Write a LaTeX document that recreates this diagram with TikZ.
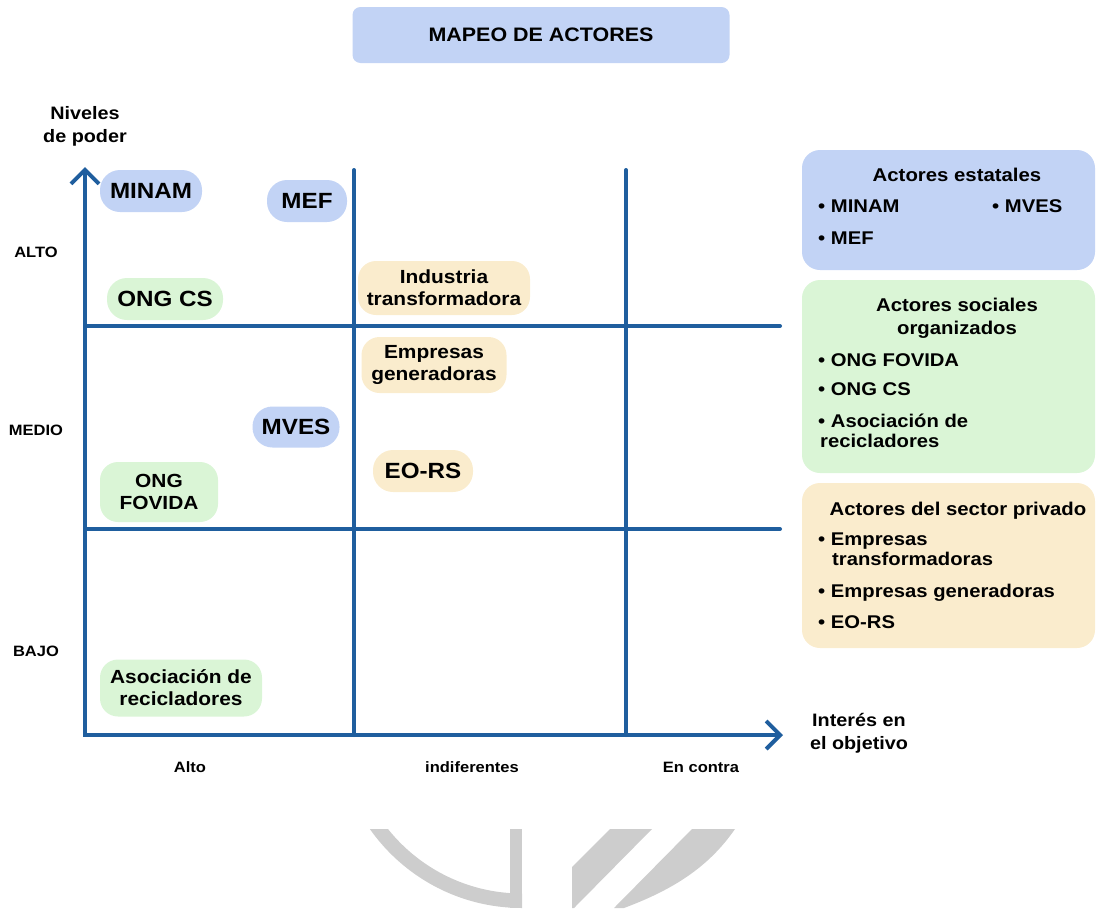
\documentclass[tikz,border=0pt]{standalone}
\usepackage{fontspec}
\setmainfont{Liberation Sans}[FakeStretch=1.1]
\usetikzlibrary{arrows.meta}

\definecolor{ejes}{RGB}{31,94,158}
\definecolor{azul}{RGB}{194,211,245}
\definecolor{verde}{RGB}{218,245,214}
\definecolor{crema}{RGB}{250,236,205}
\definecolor{marca}{RGB}{205,205,205}

\begin{document}
\begin{tikzpicture}[x=1pt, y=-1pt, >={Straight Barb[length=14pt, width=28pt]},
  eje/.style = {draw=ejes, line width=4pt, line cap=round},
  pill/.style 2 args = {rounded corners=20pt, align=center, inner sep=0pt, minimum width=#1, minimum height=#2, font=\bfseries\fontsize{22}{22}\selectfont},
  pilldos/.style 2 args = {pill={#1}{#2}, rounded corners=18pt, font=\bfseries\fontsize{19}{22}\selectfont},
  caja/.style = {rounded corners=18pt, minimum width=293pt, inner sep=0pt},
  tit/.style = {align=center, font=\bfseries\fontsize{18.5}{23}\selectfont},
  item/.style = {anchor=base west, inner sep=0pt, font=\bfseries\fontsize{18.4}{20}\selectfont},
  rot/.style = {align=center, font=\bfseries\fontsize{15}{18}\selectfont}]
\useasboundingbox (0,0) rectangle (1097,908);

% marca de agua
\begin{scope}
\clip (300,829) rectangle (522,908);
\fill[marca, even odd rule] (522,722) circle[radius=186] (522,722) circle[radius=171.5];
\end{scope}
\fill[marca] (510,829) rectangle (522,908);
\fill[marca] (610,829) -- (652,829) -- (574,908) -- (572,908) -- (572,867) -- cycle;
\fill[marca] (692,829) -- (735,829) .. controls (708,868) and (672,890) .. (624,908) -- (614,908) -- cycle;

% titulo
\node[fill=azul, rounded corners=8pt, minimum width=377pt, minimum height=56pt, font=\bfseries\fontsize{19.5}{20}\selectfont] (titulo) at (541,35) {MAPEO DE ACTORES};

% ejes y cuadricula
\coordinate (o) at (85,735);
\coordinate (ytop) at (85,167);
\coordinate (xend) at (783,735);
\coordinate (v1a) at (354,170);
\coordinate (v1b) at (354,735);
\coordinate (v2a) at (626,170);
\coordinate (v2b) at (626,735);
\coordinate (h1a) at (85,326);
\coordinate (h1b) at (780,326);
\coordinate (h2a) at (85,529);
\coordinate (h2b) at (780,529);
\draw[eje] (v1a) -- (v1b);
\draw[eje] (v2a) -- (v2b);
\draw[eje] (h1a) -- (h1b);
\draw[eje] (h2a) -- (h2b);
\draw[eje, line join=miter, <->] (ytop) -- (o) -- (xend);

\node[tit, font=\bfseries\fontsize{18}{23}\selectfont] (poder) at (85,126) {Niveles\\de poder};
\node[tit, font=\bfseries\fontsize{18}{23}\selectfont] (interes) at (859,733) {Interés en\\el objetivo};
\node[rot] (alto) at (36,252) {ALTO};
\node[rot] (medio) at (36,430) {MEDIO};
\node[rot] (bajo) at (36,651) {BAJO};
\node[rot] (xalto) at (190,767) {Alto};
\node[rot] (xind) at (472,767) {indiferentes};
\node[rot] (xcontra) at (701,767) {En contra};

% actores
\node[pill={102pt}{42pt}, fill=azul] (minam) at (151,191) {MINAM};
\node[pill={80pt}{42pt}, fill=azul] (mef) at (307,201) {MEF};
\node[pill={116pt}{42pt}, fill=verde] (ongcs) at (165,299) {ONG CS};
\node[pilldos={172pt}{54pt}, fill=crema] (industria) at (444,288) {Industria\\transformadora};
\node[pilldos={145pt}{56pt}, fill=crema] (empresas) at (434,365) {Empresas\\generadoras};
\node[pill={87pt}{41pt}, fill=azul] (mves) at (296,427) {MVES};
\node[pill={100pt}{42pt}, fill=crema] (eors) at (423,471) {EO-RS};
\node[pilldos={118pt}{60pt}, fill=verde] (fovida) at (159,492) {ONG\\FOVIDA};
\node[pilldos={162pt}{57pt}, fill=verde] (asociacion) at (181,688) {Asociación de\\recicladores};

% leyenda
\node[caja, fill=azul, minimum height=120pt] (estatales) at (948.5,210) {};
\node[caja, fill=verde, minimum height=193pt] (sociales) at (948.5,376.5) {};
\node[caja, fill=crema, minimum height=165pt] (privado) at (948.5,565.5) {};

\node[tit] (testatales) at (957,175) {Actores estatales};
\node[item] (lminam) at (818,212) {• MINAM};
\node[item] (lmves) at (992,212) {• MVES};
\node[item] (lmef) at (818,244) {• MEF};

\node[tit] (tsociales) at (957,318) {Actores sociales\\organizados};
\node[item] (lfovida) at (818,366) {• ONG FOVIDA};
\node[item] (longcs) at (818,395) {• ONG CS};
\node[item] (lasoc) at (818,427) {• Asociación de};
\node[item] (lrecic) at (820,447) {recicladores};

\node[tit] (tprivado) at (958,511) {Actores del sector privado};
\node[item] (lemp) at (818,545) {• Empresas};
\node[item] (ltransf) at (832,565) {transformadoras};
\node[item] (lgen) at (818,597) {• Empresas generadoras};
\node[item] (leors) at (818,628) {• EO-RS};
\end{tikzpicture}
\end{document}
